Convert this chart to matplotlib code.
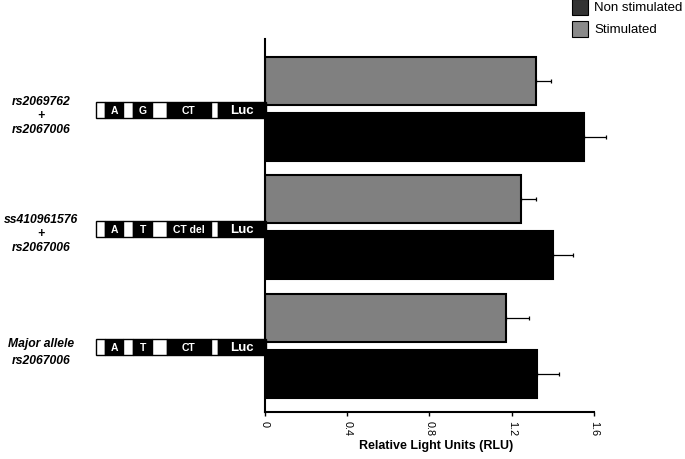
import numpy as np
import matplotlib
matplotlib.use("Agg")
import matplotlib.pyplot as plt
from matplotlib.patches import Rectangle
from matplotlib.transforms import blended_transform_factory

plt.rcParams['font.family'] = ['Liberation Sans', 'DejaVu Sans']

# data (top to bottom)
groups = ["rs2069762\n+\nrs2067006", "ss410961576\n+\nrs2067006", "Major allele\nrs2067006"]
stim = [1.32, 1.245, 1.17]
stim_err = [0.07, 0.075, 0.115]
nonstim = [1.55, 1.40, 1.325]
nonstim_err = [0.11, 0.10, 0.105]
snp1 = ["A", "A", "A"]
snp2 = ["G", "T", "T"]
ct = ["CT", "CT del", "CT"]
xticks = [0, 0.4, 0.8, 1.2, 1.6]

fig = plt.figure(figsize=(6.85, 4.6), dpi=100)
ax = fig.add_axes([0.387, 0.102, 0.480, 0.811])

pos = np.arange(len(groups))
off = 0.237
h = 0.405
ax.barh(pos - off, stim, height=h, color='#808080', edgecolor='black', linewidth=1.5)
ax.barh(pos + off, nonstim, height=h, color='black', edgecolor='black', linewidth=1.5)
for vals, errs, yy in [(stim, stim_err, pos - off), (nonstim, nonstim_err, pos + off)]:
    eb = ax.errorbar(vals, yy, xerr=[np.zeros(3), errs], fmt='none',
                     ecolor='black', elinewidth=0.9, capsize=1.5, capthick=0.9)
    for art in eb.lines[1] + eb.lines[2]:
        art.set_clip_on(False)

ax.set_xlim(0, 1.6)
ax.set_ylim(2.56, -0.59)
ax.set_xticks(xticks)
ax.set_xticklabels([f"{t:g}" for t in xticks], rotation=270, fontsize=7.8)
ax.tick_params(axis='x', length=3, width=1, pad=3)
ax.set_yticks([])
for s in ['top', 'right']:
    ax.spines[s].set_visible(False)
ax.spines['left'].set_linewidth(1.5)
ax.spines['bottom'].set_linewidth(1.5)
ax.set_xlabel("Relative Light Units (RLU)", fontsize=9, fontweight='bold', va='center')
ax.xaxis.set_label_coords(0.52, -0.088)

# construct diagrams
tr = blended_transform_factory(fig.transFigure, ax.transData)
W = 685.0
segs = [(96, 105, 'w'), (105, 123, 'b'), (123, 133, 'w'), (133, 152, 'b'),
        (152, 167, 'w'), (167, 211, 'b'), (211, 218, 'w'), (218, 266, 'b')]
dh = 0.135
for i in range(len(groups)):
    yc = pos[i] + 0.012
    for x0, x1, c in segs:
        fc = 'white' if c == 'w' else 'black'
        ax.add_patch(Rectangle((x0 / W, yc - dh / 2), (x1 - x0) / W, dh, transform=tr,
                               facecolor=fc, edgecolor='black', linewidth=1, clip_on=False, zorder=5))
    labels = [(114, snp1[i], 7.5), (143, snp2[i], 7.5), (189, ct[i], 7.5), (242, "Luc", 9.5)]
    for xc, t, fs in labels:
        ax.text(xc / W, yc, t, transform=tr, color='white', fontsize=fs, fontweight='bold',
                ha='center', va='center', clip_on=False, zorder=6)
    ls = 1.25 if i < 2 else 1.6
    ax.text(41 / W, pos[i] + 0.05, groups[i], transform=tr, fontsize=8.7, fontweight='bold',
            fontstyle='italic', ha='center', va='center', linespacing=ls)

# legend
fig.patches.append(Rectangle((572 / W, 1 - 16 / 460), 16 / W, 16 / 460, transform=fig.transFigure,
                             facecolor='#333333', edgecolor='black', linewidth=0.8))
fig.patches.append(Rectangle((572 / W, 1 - 38 / 460), 16 / W, 16 / 460, transform=fig.transFigure,
                             facecolor='#8a8a8a', edgecolor='black', linewidth=0.8))
fig.text(594 / W, 1 - 8 / 460, "Non stimulated", fontsize=9.5, va='center', ha='left')
fig.text(594 / W, 1 - 30 / 460, "Stimulated", fontsize=9.5, va='center', ha='left')

fig.savefig("out.png", dpi=100)
